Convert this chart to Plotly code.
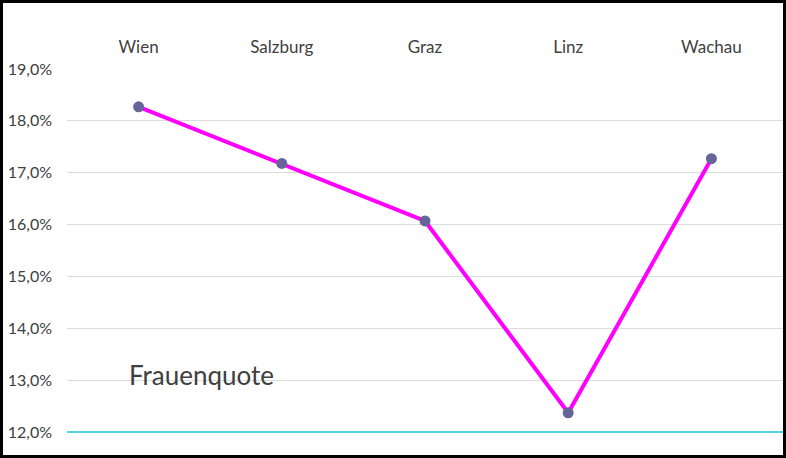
import plotly.graph_objects as go

# Frauenquote je Standort (in %)
standorte = ["Wien", "Salzburg", "Graz", "Linz", "Wachau"]
quote = [18.27, 17.18, 16.07, 12.37, 17.27]
y_ticks = [12, 13, 14, 15, 16, 17, 18, 19]

W, H = 786, 458
ml, mr, mt, mb = 67, 3, 69, 26
pw, ph = W - ml - mr, H - mt - mb

fig = go.Figure(go.Scatter(
    x=standorte, y=[q / 100 for q in quote],
    mode="lines+markers",
    line=dict(color="#ff00ff", width=4),
    marker=dict(color="#65659a", size=11),
    hoverinfo="skip",
))

fig.update_layout(
    width=W, height=H,
    margin=dict(l=ml, r=mr, t=mt, b=mb),
    paper_bgcolor="white", plot_bgcolor="white",
    separators=",.",
    showlegend=False,
    font=dict(family="Lato, Noto Sans, sans-serif", color="#404040", size=16),
)

fig.update_xaxes(
    side="top", range=[-0.5, 4.5],
    showgrid=False, showline=False, zeroline=False,
    ticks="", ticklabelstandoff=12,
    tickfont=dict(size=17, color="#404040"),
)
fig.update_yaxes(
    range=[0.12, 0.19], tickvals=[t / 100 for t in y_ticks],
    tickformat=".1%",
    showgrid=True, gridcolor="#dcdcdc", gridwidth=1,
    zeroline=False, showline=False, ticks="",
    ticklabelstandoff=14,
    tickfont=dict(size=16, color="#404040"),
)

# cyan baseline at the bottom of the plot
fig.add_shape(type="line", xref="paper", yref="y domain",
              x0=0, x1=1, y0=0, y1=0,
              line=dict(color="#1ec3cd", width=1.3))

# black frame around the chart
fig.add_shape(type="rect", xref="paper", yref="paper",
              x0=(1.5 - ml) / pw, x1=(W - 1.5 - ml) / pw,
              y0=(ph + mt - (H - 1.5)) / ph, y1=(ph + mt - 1.5) / ph,
              line=dict(color="black", width=3), layer="above")

fig.add_annotation(text="Frauenquote", xref="paper", yref="paper",
                   x=(127 - ml) / pw, y=(mt + ph - 375) / ph,
                   xanchor="left", yanchor="middle", showarrow=False,
                   font=dict(size=26, color="#404040"))

fig.write_html("out.html", config={"displayModeBar": False},
               post_script="document.body.style.margin='0';"
                           "document.body.style.overflow='hidden';")
